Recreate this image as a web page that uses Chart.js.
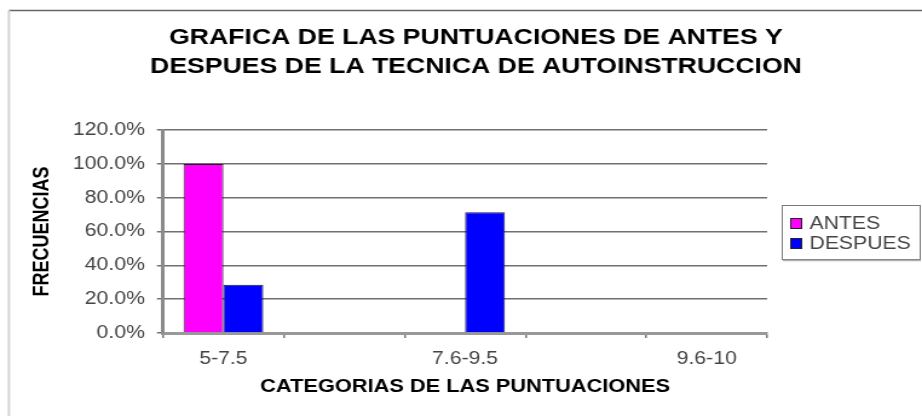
<!DOCTYPE html>
<html>
<head>
<meta charset="utf-8">
<script src="https://cdn.jsdelivr.net/npm/chart.js@4/dist/chart.umd.min.js"></script>
<style>
  html, body { margin: 0; padding: 0; background: #fff; overflow: hidden; }
  #wrap { width: 762px; height: 416px; transform: scaleX(1.21); transform-origin: 0 0; }
</style>
</head>
<body>
<div id="wrap"><canvas id="chart" width="762" height="416"></canvas></div>
<script>
// chart data
var categories = ['5-7.5', '', '7.6-9.5', '', '9.6-10'];
var antes = [100, 0, 0, 0, 0];
var despues = [28.6, 0, 71.4, 0, 0];
var seriesNames = ['ANTES', 'DESPUES'];
var titleLines = ['GRAFICA DE LAS PUNTUACIONES DE ANTES Y', 'DESPUES DE LA TECNICA DE AUTOINSTRUCCION'];
var yTitle = 'FRECUENCIAS';
var xTitle = 'CATEGORIAS DE LAS PUNTUACIONES';
var yMax = 120;
var yStep = 20;

var FONT = "'Liberation Sans', Arial, sans-serif";

// outer frame lines + legend box drawn by hand
var framePlugin = {
    id: 'frame',
    beforeDraw: function(chart){
        var ctx = chart.ctx;
        ctx.save();
        ctx.fillStyle = '#fff';
        ctx.fillRect(0, 0, chart.width, chart.height);
        ctx.strokeStyle = '#666';
        ctx.lineWidth = 1.5;
        ctx.beginPath();
        ctx.moveTo(7.4, 10.5);
        ctx.lineTo(chart.width, 10.5);
        ctx.stroke();
        ctx.strokeStyle = '#d4d4d4';
        ctx.lineWidth = 2;
        ctx.beginPath();
        ctx.moveTo(7.4, 10.5);
        ctx.lineTo(7.4, chart.height);
        ctx.stroke();
        ctx.restore();
    },
    afterDraw: function(chart){
        var ctx = chart.ctx;
        var left = 646, top = 205, w = 114, h = 54;
        ctx.save();
        ctx.strokeStyle = '#7a7a7a';
        ctx.lineWidth = 1;
        ctx.strokeRect(left + 0.5, top + 0.5, w, h);
        ctx.strokeStyle = '#b0b0b0';
        ctx.lineWidth = 1.5;
        ctx.beginPath();
        ctx.moveTo(left + 1, top + h + 1.5);
        ctx.lineTo(left + w + 1, top + h + 1.5);
        ctx.stroke();
        ctx.font = '17.5px ' + FONT;
        ctx.textBaseline = 'middle';
        chart.data.datasets.forEach(function(ds, i){
            var cy = 223 + i * 20;
            ctx.fillStyle = ds.backgroundColor;
            ctx.fillRect(653, cy - 5, 9, 10);
            ctx.strokeStyle = '#222';
            ctx.lineWidth = 1;
            ctx.strokeRect(653.5, cy - 4.5, 9, 10);
            ctx.fillStyle = '#444';
            ctx.fillText(ds.label, 669, cy + 1);
        });
        ctx.restore();
    }
};

function init(){
    var ctx = document.getElementById('chart').getContext('2d');
    new Chart(ctx, {
        type: 'bar',
        data: {
            labels: categories,
            datasets: [{
                label: seriesNames[0],
                data: antes,
                backgroundColor: '#ff00ff',
                borderColor: '#222',
                borderWidth: 1,
                categoryPercentage: 0.66,
                barPercentage: 1.0
            }, {
                label: seriesNames[1],
                data: despues,
                backgroundColor: '#0000ff',
                borderColor: '#1a1a40',
                borderWidth: 1,
                categoryPercentage: 0.66,
                barPercentage: 1.0
            }]
        },
        options: {
            responsive: false,
            animation: false,
            layout: { padding: { left: 24.7, right: 0, top: 0, bottom: 0 } },
            plugins: {
                legend: { display: false },
                tooltip: { enabled: false },
                title: {
                    display: true,
                    text: titleLines,
                    color: '#000',
                    font: { family: FONT, size: 22, weight: 'bold', lineHeight: 1.32 },
                    padding: { top: 23.5, bottom: 48.5 }
                }
            },
            scales: {
                x: {
                    grid: {
                        display: true,
                        drawOnChartArea: false,
                        drawTicks: true,
                        tickLength: 5,
                        color: '#777',
                        lineWidth: 1.5,
                        offset: true
                    },
                    border: { display: true, color: '#999', width: 3 },
                    ticks: {
                        color: '#444',
                        font: { family: FONT, size: 17.5 },
                        padding: 11,
                        autoSkip: false,
                        maxRotation: 0
                    },
                    title: {
                        display: true,
                        text: xTitle,
                        color: '#000',
                        font: { family: FONT, size: 18, weight: 'bold' },
                        padding: { top: 0, bottom: 18 }
                    },
                    afterFit: function(scale){ scale.height = 83; }
                },
                y: {
                    min: 0,
                    max: yMax,
                    grid: {
                        color: '#707070',
                        lineWidth: 1.5,
                        drawTicks: true,
                        tickLength: 5
                    },
                    border: { display: true, color: '#8a8a8a', width: 3 },
                    ticks: {
                        stepSize: yStep,
                        color: '#444',
                        font: { family: FONT, size: 17.5 },
                        padding: 10,
                        callback: function(v){ return v.toFixed(1) + '%'; }
                    },
                    title: {
                        display: true,
                        text: yTitle,
                        color: '#000',
                        font: { family: FONT, size: 18, weight: 'bold' },
                        padding: { top: 0, bottom: 0 }
                    },
                    afterFit: function(scale){ scale.width = 110; }
                },
                // empty axis that keeps room for the legend on the right
                yRight: {
                    type: 'linear',
                    position: 'right',
                    display: true,
                    grid: { display: false },
                    border: { display: false },
                    ticks: { display: false },
                    afterFit: function(scale){ scale.width = 128; }
                }
            }
        },
        plugins: [framePlugin]
    });
}

window.onload = init;
</script>
</body>
</html>
